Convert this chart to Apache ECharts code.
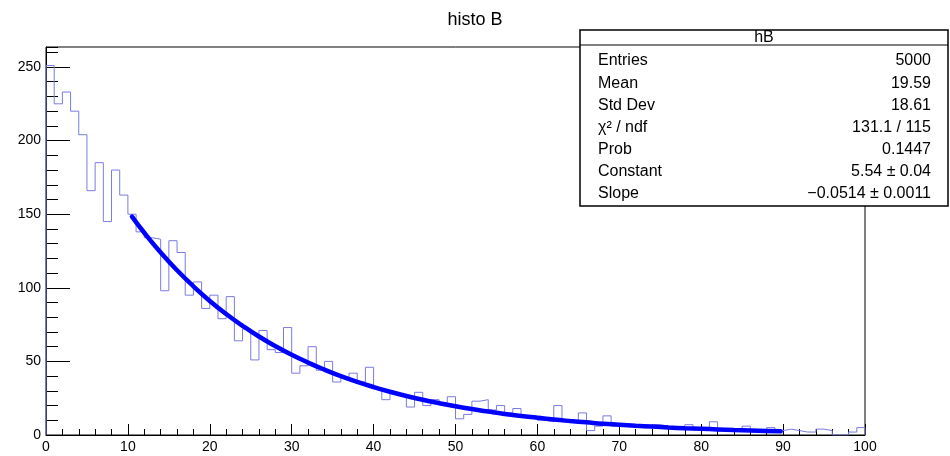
<!DOCTYPE html>
<html><head><meta charset="utf-8">
<script src="https://cdn.jsdelivr.net/npm/echarts@6/dist/echarts.min.js"></script>
<style>html,body{margin:0;padding:0;background:#fff}#c{width:950px;height:456px}</style>
</head><body><div id="c"></div>
<script>
// ---- data ----
const titleText = 'histo B';
const binLow = 0;
const binWidth = 1;
const counts = [
  251,225,233,220,204,166,185,145,180,163,
  150,138,134,133,98,132,124,95,104,86,
  95,79,94,64,72,51,71,58,56,73,
  42,47,60,44,50,36,39,42,36,46,
  32,24,28,27,19,29,20,24,22,26,
  11,14,23,24,17,20,15,18,13,12,
  10,9,20,9,9,15,3,6,13,6,
  7,6,5,5,7,6,5,5,7,5,
  4,9,4,3,3,6,3,3,5,3,
  4,3,2,2,4,3,0,0,2,5
];
const fitX = [10.5,12,14,16,18,20,22,24,26,28,30,32,34,36,38,40,42,44,46,48,50,52,54,56,58,60,62,64,66,68,70,72,74,76,78,80,82,84,86,88,89.7];
const fitY = [148.4,137.4,124.0,111.9,101.0,91.1,82.2,74.2,66.9,60.4,54.5,49.2,44.4,40.0,36.1,32.6,29.4,26.5,23.9,21.6,19.5,17.6,15.9,14.3,12.9,11.7,10.5,9.5,8.6,7.7,7.0,6.3,5.7,5.1,4.6,4.2,3.8,3.4,3.1,2.8,2.5];
const xMin = 0, xMax = 100, xStep = 10;
const yMin = 0, yMax = 263.6, yStep = 50, yMinorStep = 10;
const statTitle = 'hB';
const statLabels = ['Entries','Mean','Std Dev','χ² / ndf','Prob','Constant','Slope'];
const statValues = ['5000','19.59','18.61','131.1 / 115','0.1447','5.54 ± 0.04','−0.0514 ± 0.0011'];

// ---- build ----
const histPts = [[binLow, 0]];
counts.forEach((c, i) => {
  histPts.push([binLow + i * binWidth, c]);
  histPts.push([binLow + (i + 1) * binWidth, c]);
});
histPts.push([binLow + counts.length * binWidth, 0]);
const fitPts = fitX.map((x, i) => [x, fitY[i]]);

const FONT = 'Liberation Sans, Arial, Helvetica, sans-serif';
const box = {x: 580, y: 30, w: 368, h: 176};
const graphics = [
  {type: 'rect', z: 100, shape: {x: box.x, y: box.y, width: box.w, height: box.h},
   style: {fill: '#fff', stroke: '#000', lineWidth: 1.5}},
  {type: 'line', z: 101, shape: {x1: box.x, y1: 45, x2: box.x + box.w, y2: 45},
   style: {stroke: '#000', lineWidth: 1.2}},
  {type: 'text', z: 101, x: box.x + box.w / 2, y: 38,
   style: {text: statTitle, fill: '#000', font: '16px ' + FONT, textAlign: 'center', textVerticalAlign: 'middle'}}
];
statLabels.forEach((lab, i) => {
  const yy = 61 + i * 22.1;
  graphics.push({type: 'text', z: 101, x: 598, y: yy,
    style: {text: lab, fill: '#000', font: '16px ' + FONT, textAlign: 'left', textVerticalAlign: 'middle'}});
  graphics.push({type: 'text', z: 101, x: 931, y: yy,
    style: {text: statValues[i], fill: '#000', font: '16px ' + FONT, textAlign: 'right', textVerticalAlign: 'middle'}});
});

const chart = echarts.init(document.getElementById('c'), null, {renderer: 'canvas'});
chart.setOption({
  animation: false,
  backgroundColor: '#fff',
  title: {text: titleText, left: 'center', top: 6,
    textStyle: {fontFamily: FONT, fontSize: 18, fontWeight: 'normal', color: '#000'}},
  grid: {left: 46, right: 85, top: 47, bottom: 21, show: true, borderColor: '#000', borderWidth: 1, backgroundColor: 'transparent'},
  xAxis: {
    type: 'value', min: xMin, max: xMax, interval: xStep,
    axisLine: {show: true, lineStyle: {color: '#000', width: 1}},
    axisTick: {show: true, inside: true, length: 11, lineStyle: {color: '#000', width: 1}},
    minorTick: {show: true, splitNumber: 5, length: 6, lineStyle: {color: '#000', width: 1}},
    axisLabel: {fontFamily: FONT, fontSize: 14, color: '#000', margin: 5},
    splitLine: {show: false}
  },
  yAxis: [{
    type: 'value', min: yMin, max: yMax, interval: yStep,
    axisLine: {show: true, lineStyle: {color: '#000', width: 1}},
    axisTick: {show: true, inside: true, length: 24, lineStyle: {color: '#000', width: 1}},
    axisLabel: {fontFamily: FONT, fontSize: 14, color: '#000', margin: 5, showMaxLabel: false,
      formatter: v => (Math.abs(v % yStep) < 1e-6 ? String(v) : '')},
    splitLine: {show: false}
  }, {
    type: 'value', min: yMin, max: yMax, interval: yMinorStep, position: 'left',
    axisLine: {show: false},
    axisTick: {show: true, inside: true, length: 12, lineStyle: {color: '#000', width: 1}},
    axisLabel: {show: false},
    splitLine: {show: false}
  }],
  series: [{
    type: 'line', data: histPts, symbol: 'none', yAxisIndex: 0,
    lineStyle: {color: '#7b7be0', width: 1}, z: 3
  }, {
    type: 'line', data: fitPts, symbol: 'none', smooth: true, yAxisIndex: 0,
    lineStyle: {color: '#0000ff', width: 4.5, cap: 'round'}, z: 4
  }],
  graphic: graphics
});
</script>
</body></html>
